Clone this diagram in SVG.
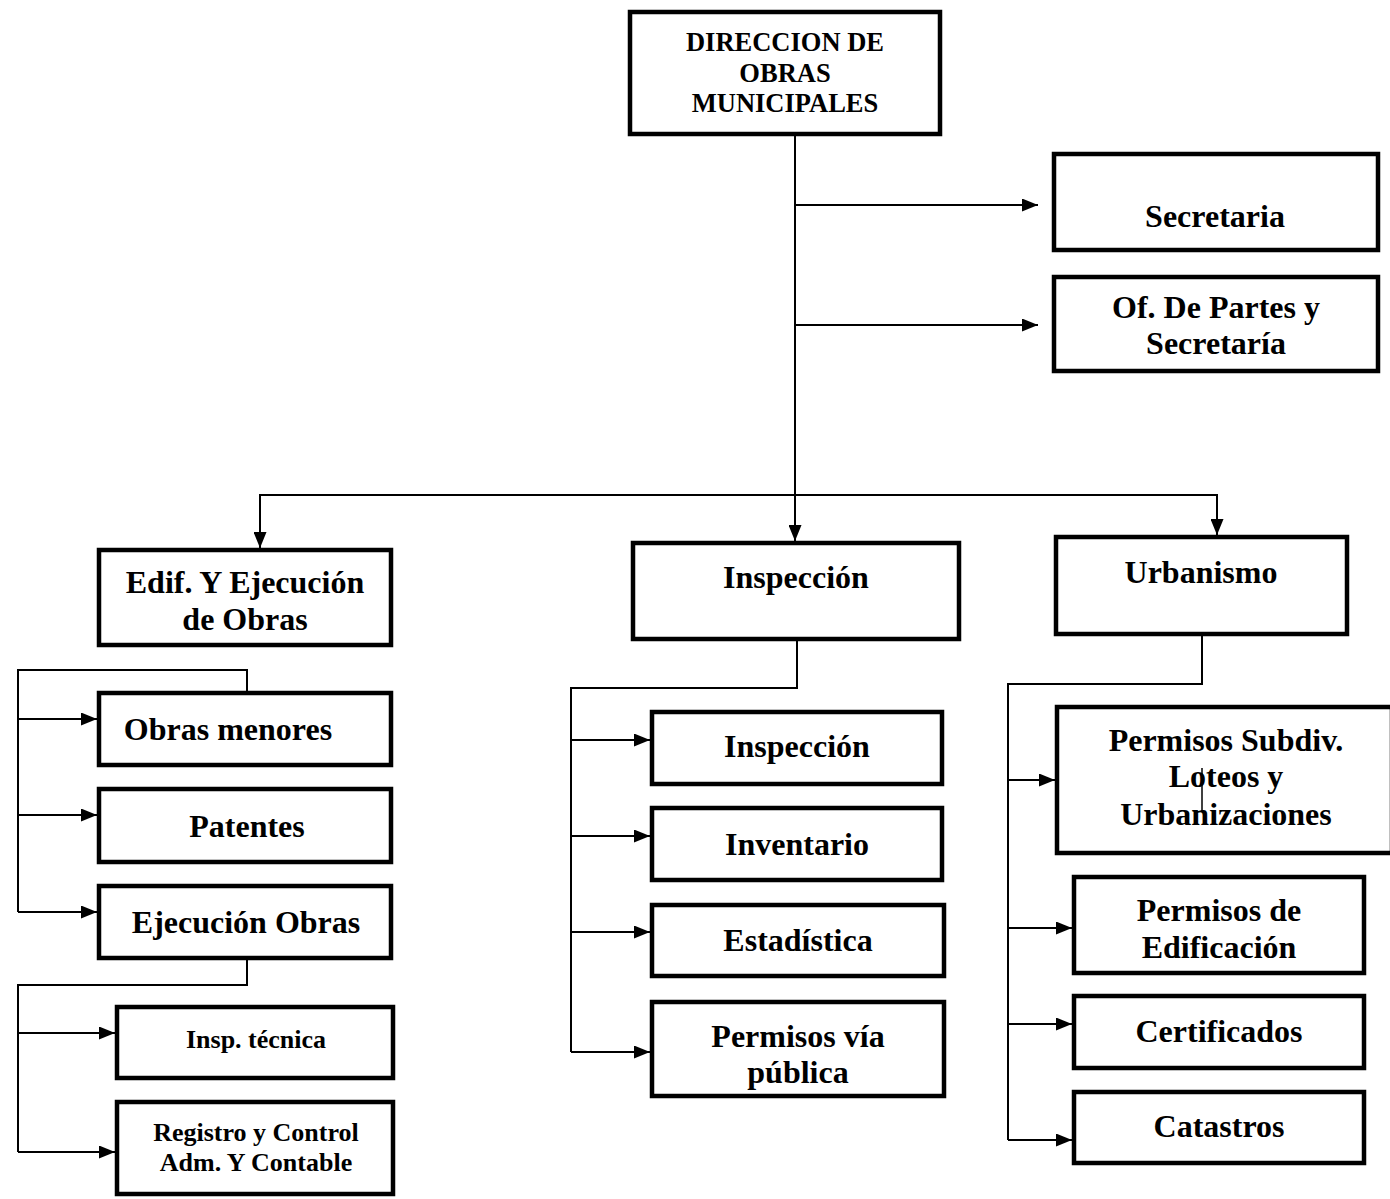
<svg xmlns="http://www.w3.org/2000/svg" width="1390" height="1199" viewBox="0 0 1390 1199">
<defs>
<style>
.box{fill:#fff;stroke:#000;stroke-width:4.5}
.t{font-family:"Liberation Serif","Times New Roman",serif;font-weight:bold;font-size:32px;fill:#000;text-anchor:middle}
.tt{font-size:26.5px}
.ts{font-size:26px}
.c{fill:none;stroke:#000;stroke-width:2}
.a{fill:none;stroke:#000;stroke-width:2;marker-end:url(#ah)}
</style>
<marker id="ah" markerUnits="userSpaceOnUse" markerWidth="16" markerHeight="13" refX="16" refY="6.5" orient="auto">
<path d="M0,0 L16,6.5 L0,13 z" fill="#000"/>
</marker>
</defs>
<rect width="1390" height="1199" fill="#fff"/>
<g id="connectors">
<path class="a" d="M795,136 V541"/>
<path class="a" d="M795,205 H1038"/>
<path class="a" d="M795,325 H1038"/>
<path class="a" d="M795,495 H260 V548"/>
<path class="a" d="M795,495 H1217 V535"/>
<path class="c" d="M247,691 V670 H18 V912"/>
<path class="a" d="M18,719 H97"/>
<path class="a" d="M18,815 H97"/>
<path class="a" d="M18,912 H97"/>
<path class="c" d="M247,960 V985 H18 V1152"/>
<path class="a" d="M18,1033 H115"/>
<path class="a" d="M18,1152 H115"/>
<path class="c" d="M797,641 V688 H571 V1052"/>
<path class="a" d="M571,740 H650"/>
<path class="a" d="M571,836 H650"/>
<path class="a" d="M571,932 H650"/>
<path class="a" d="M571,1052 H650"/>
<path class="c" d="M1202,636 V684 H1008 V1140"/>
<path class="a" d="M1008,780 H1055"/>
<path class="a" d="M1008,928 H1072"/>
<path class="a" d="M1008,1024 H1072"/>
<path class="a" d="M1008,1140 H1072"/>
</g>
<g id="direccion">
<rect class="box" x="630" y="12" width="310" height="122"/>
<text class="t tt" x="785" y="51">DIRECCION DE</text>
<text class="t tt" x="785" y="82">OBRAS</text>
<text class="t tt" x="785" y="112">MUNICIPALES</text>
</g>
<g id="secretaria">
<rect class="box" x="1054" y="154" width="324" height="96"/>
<text class="t" x="1215" y="227">Secretaria</text>
</g>
<g id="ofpartes">
<rect class="box" x="1054" y="277" width="324" height="94"/>
<text class="t" x="1216" y="318">Of. De Partes y</text>
<text class="t" x="1216" y="354">Secretaría</text>
</g>
<g id="edif">
<rect class="box" x="99" y="550" width="292" height="95"/>
<text class="t" x="245" y="593">Edif. Y Ejecución</text>
<text class="t" x="245" y="630">de Obras</text>
</g>
<g id="inspeccion">
<rect class="box" x="633" y="543" width="326" height="96"/>
<text class="t" x="796" y="588">Inspección</text>
</g>
<g id="urbanismo">
<rect class="box" x="1056" y="537" width="291" height="97"/>
<text class="t" x="1201" y="583">Urbanismo</text>
</g>
<g id="obrasmenores">
<rect class="box" x="99" y="693" width="292" height="72"/>
<text class="t" x="228" y="740">Obras menores</text>
</g>
<g id="patentes">
<rect class="box" x="99" y="789" width="292" height="73"/>
<text class="t" x="247" y="837">Patentes</text>
</g>
<g id="ejecucion">
<rect class="box" x="99" y="886" width="292" height="72"/>
<text class="t" x="246" y="933">Ejecución Obras</text>
</g>
<g id="insptecnica">
<rect class="box" x="117" y="1007" width="276" height="71"/>
<text class="t ts" x="256" y="1048">Insp. técnica</text>
</g>
<g id="registro">
<rect class="box" x="117" y="1102" width="276" height="92"/>
<text class="t ts" x="256" y="1141">Registro y Control</text>
<text class="t ts" x="256" y="1171">Adm. Y Contable</text>
</g>
<g id="inspeccion2">
<rect class="box" x="652" y="712" width="290" height="72"/>
<text class="t" x="797" y="757">Inspección</text>
</g>
<g id="inventario">
<rect class="box" x="652" y="808" width="290" height="72"/>
<text class="t" x="797" y="855">Inventario</text>
</g>
<g id="estadistica">
<rect class="box" x="652" y="905" width="292" height="71"/>
<text class="t" x="798" y="951">Estadística</text>
</g>
<g id="permisosvia">
<rect class="box" x="652" y="1002" width="292" height="94"/>
<text class="t" x="798" y="1047">Permisos vía</text>
<text class="t" x="798" y="1083">pública</text>
</g>
<g id="subdiv">
<rect class="box" x="1057" y="707" width="335" height="146"/>
<text class="t" x="1226" y="751">Permisos Subdiv.</text>
<text class="t" x="1226" y="787">Loteos y</text>
<text class="t" x="1226" y="825">Urbanizaciones</text>
<path d="M1202,768 V812" stroke="#000" stroke-width="1.5"/>
</g>
<g id="edificacion">
<rect class="box" x="1074" y="877" width="290" height="96"/>
<text class="t" x="1219" y="921">Permisos de</text>
<text class="t" x="1219" y="958">Edificación</text>
</g>
<g id="certificados">
<rect class="box" x="1074" y="996" width="290" height="72"/>
<text class="t" x="1219" y="1042">Certificados</text>
</g>
<g id="catastros">
<rect class="box" x="1074" y="1092" width="290" height="71"/>
<text class="t" x="1219" y="1137">Catastros</text>
</g>
</svg>
